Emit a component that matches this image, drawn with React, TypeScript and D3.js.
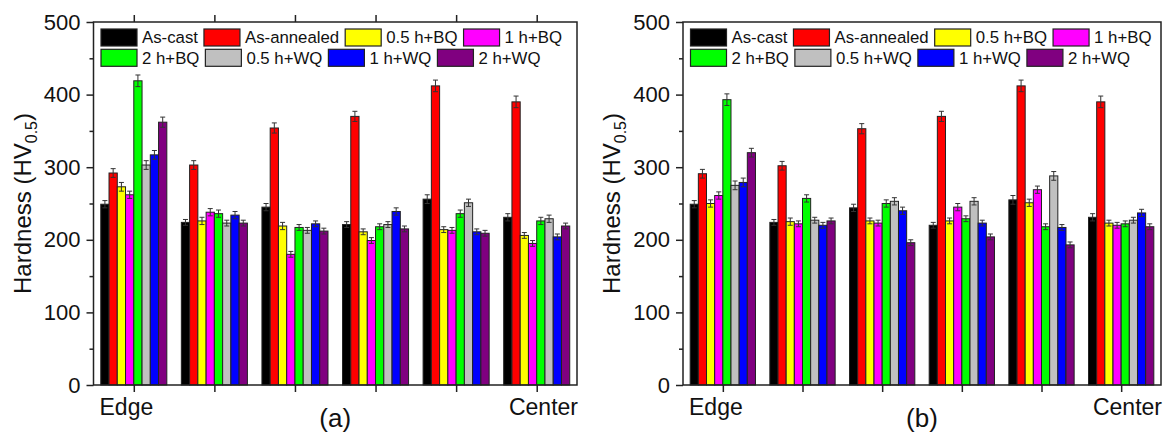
import React, { useEffect, useRef } from 'react';
import * as d3 from 'd3';

const groups = ['1', '2', '3', '4', '5', '6'];
const seriesNames = ['As-cast', 'As-annealed', '0.5 h+BQ', '1 h+BQ', '2 h+BQ', '0.5 h+WQ', '1 h+WQ', '2 h+WQ'];
const seriesColors = ['#000000', '#ff0000', '#ffff00', '#ff00ff', '#00ff00', '#c0c0c0', '#0000ff', '#800080'];
const yTicks = [0, 100, 200, 300, 400, 500];

// panel (a)
const valuesA = [
  [249, 224, 245, 221, 256, 231],
  [292, 303, 354, 370, 412, 390],
  [273, 226, 219, 211, 214, 206],
  [262, 238, 180, 199, 213, 195],
  [419, 236, 217, 218, 236, 226],
  [303, 223, 213, 221, 251, 229],
  [317, 234, 222, 239, 211, 204],
  [362, 223, 212, 215, 209, 219],
];
const errorsA = [
  [5, 4, 5, 4, 6, 5],
  [6, 6, 7, 7, 8, 8],
  [6, 5, 5, 4, 4, 4],
  [5, 5, 4, 4, 4, 4],
  [8, 5, 4, 4, 5, 5],
  [6, 4, 4, 4, 5, 5],
  [6, 5, 4, 5, 4, 4],
  [7, 4, 4, 4, 4, 4],
];

// panel (b)
const valuesB = [
  [249, 224, 244, 220, 255, 231],
  [291, 302, 353, 370, 412, 390],
  [250, 225, 226, 226, 251, 223],
  [261, 222, 223, 245, 269, 220],
  [393, 257, 250, 229, 218, 222],
  [275, 227, 253, 253, 288, 227],
  [279, 220, 240, 223, 217, 237],
  [320, 226, 196, 204, 193, 218],
];
const errorsB = [
  [5, 4, 5, 4, 6, 5],
  [6, 6, 7, 7, 8, 8],
  [5, 5, 4, 4, 5, 4],
  [5, 4, 4, 5, 5, 4],
  [8, 5, 5, 4, 4, 4],
  [6, 4, 5, 5, 6, 4],
  [6, 4, 5, 4, 4, 5],
  [6, 4, 4, 4, 4, 4],
];

const FONT = 'Liberation Sans, Arial, sans-serif';

const drawPanel = (svg, { left, right, top, bottom, values, errors, label, topTicks }) => {
  const g = svg.append('g');

  const y = d3.scaleLinear().domain([0, 500]).range([bottom, top]);
  const x0 = d3.scaleBand().domain(groups).range([left, right]).padding(0);
  const x1 = d3.scaleBand().domain(seriesNames).range([0, x0.bandwidth()])
    .paddingInner(0).paddingOuter(0.88);

  // bars
  seriesNames.forEach((name, si) => {
    groups.forEach((grp, gi) => {
      const v = values[si][gi];
      const e = errors[si][gi];
      const bx = x0(grp) + x1(name);
      const bw = x1.bandwidth();
      g.append('rect')
        .attr('x', bx).attr('y', y(v))
        .attr('width', bw).attr('height', y(0) - y(v))
        .attr('fill', seriesColors[si])
        .attr('stroke', '#222').attr('stroke-width', 1);
      const cx = bx + bw / 2;
      const eb = g.append('g').attr('stroke', '#333').attr('stroke-width', 1);
      eb.append('line').attr('x1', cx).attr('x2', cx).attr('y1', y(v - e)).attr('y2', y(v + e));
      eb.append('line').attr('x1', cx - 2.5).attr('x2', cx + 2.5).attr('y1', y(v + e)).attr('y2', y(v + e));
      eb.append('line').attr('x1', cx - 2.5).attr('x2', cx + 2.5).attr('y1', y(v - e)).attr('y2', y(v - e));
    });
  });

  // frame
  g.append('rect')
    .attr('x', left).attr('y', top)
    .attr('width', right - left).attr('height', bottom - top)
    .attr('fill', 'none').attr('stroke', '#222').attr('stroke-width', 1.5);

  // y axis
  const yAxis = d3.axisLeft(y).tickValues(yTicks).tickSize(7).tickPadding(6);
  const ya = g.append('g').attr('transform', `translate(${left},0)`).call(yAxis);
  ya.select('.domain').remove();
  ya.selectAll('.tick line').attr('stroke', '#222').attr('stroke-width', 1.5);
  ya.selectAll('.tick text').attr('font-family', FONT).attr('font-size', 22).attr('fill', '#111');
  const yMinor = d3.axisLeft(y).tickValues([50, 150, 250, 350, 450]).tickSize(4).tickFormat(() => '');
  const ym = g.append('g').attr('transform', `translate(${left},0)`).call(yMinor);
  ym.select('.domain').remove();
  ym.selectAll('.tick line').attr('stroke', '#222').attr('stroke-width', 1.5);

  // x axis ticks at group centres
  const xc = d3.scalePoint().domain(groups).range([x0('1') + x0.bandwidth() / 2, x0('6') + x0.bandwidth() / 2]);
  const xAxis = d3.axisBottom(xc).tickSize(7).tickFormat(() => '');
  const xa = g.append('g').attr('transform', `translate(0,${bottom})`).call(xAxis);
  xa.select('.domain').remove();
  xa.selectAll('.tick line').attr('stroke', '#222').attr('stroke-width', 1.5);
  if (topTicks) {
    const xt = g.append('g').attr('transform', `translate(0,${top})`).call(d3.axisTop(xc).tickSize(7).tickFormat(() => ''));
    xt.select('.domain').remove();
    xt.selectAll('.tick line').attr('stroke', '#222').attr('stroke-width', 1.5);
  }

  g.append('text').attr('x', left + 6).attr('y', bottom + 30)
    .attr('font-family', FONT).attr('font-size', 23).attr('fill', '#111').text('Edge');
  g.append('text').attr('x', right + 1).attr('y', bottom + 30).attr('text-anchor', 'end')
    .attr('font-family', FONT).attr('font-size', 23).attr('fill', '#111').text('Center');
  g.append('text').attr('x', (left + right) / 2).attr('y', bottom + 42).attr('text-anchor', 'middle')
    .attr('font-family', FONT).attr('font-size', 26).attr('fill', '#111').text(label);

  // y title
  const yt = g.append('text')
    .attr('transform', `translate(${left - 63},${(top + bottom) / 2}) rotate(-90)`)
    .attr('text-anchor', 'middle')
    .attr('font-family', FONT).attr('font-size', 24).attr('fill', '#111');
  yt.append('tspan').text('Hardness (HV');
  yt.append('tspan').attr('font-size', 16).attr('dy', 6).text('0.5');
  yt.append('tspan').attr('dy', -6).text(')');

  // legend, flowing two rows of four
  const rows = [seriesNames.slice(0, 4), seriesNames.slice(4)];
  rows.forEach((row, ri) => {
    let cx = left + 7.5;
    const rowTop = top + 7 + ri * 20.3;
    row.forEach((name) => {
      const si = seriesNames.indexOf(name);
      g.append('rect').attr('x', cx).attr('y', rowTop).attr('width', 36).attr('height', 17)
        .attr('fill', seriesColors[si]).attr('stroke', '#222').attr('stroke-width', 1.2);
      const t = g.append('text').attr('x', cx + 41).attr('y', rowTop + 8.5).attr('dy', '0.35em')
        .attr('font-family', FONT).attr('font-size', 16.8).attr('fill', '#111').text(name);
      const w = (t.node() as SVGTextElement).getComputedTextLength();
      cx = cx + 41 + w + 6;
    });
  });
};

export default function App() {
  const ref = useRef<SVGSVGElement>(null);

  useEffect(() => {
    const svg = d3.select(ref.current);
    svg.selectAll('*').remove();
    drawPanel(svg, { left: 93.5, right: 577, top: 22, bottom: 385, values: valuesA, errors: errorsA, label: '(a)', topTicks: true });
    drawPanel(svg, { left: 683, right: 1161, top: 22, bottom: 385, values: valuesB, errors: errorsB, label: '(b)', topTicks: false });
  }, []);

  return (
    <svg ref={ref} width={1171} height={439}
      style={{ position: 'absolute', left: 0, top: 0, background: '#fff' }} />
  );
}
